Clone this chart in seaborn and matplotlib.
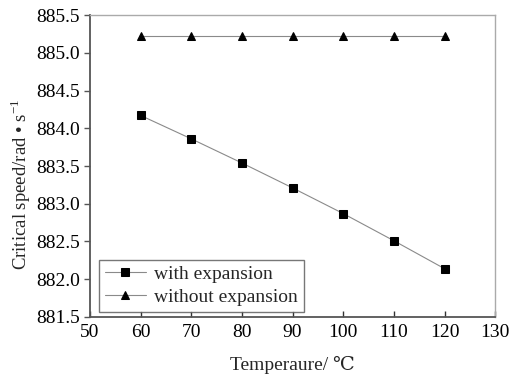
import matplotlib
matplotlib.use("Agg")
import matplotlib.pyplot as plt
import seaborn as sns
import pandas as pd

temperature = [60, 70, 80, 90, 100, 110, 120]
with_expansion = [884.17, 883.86, 883.54, 883.21, 882.87, 882.51, 882.14]
without_expansion = [885.22, 885.22, 885.22, 885.22, 885.22, 885.22, 885.22]
series_names = ["with expansion", "without expansion"]
x_ticks = [50, 60, 70, 80, 90, 100, 110, 120, 130]
y_ticks = [881.5, 882.0, 882.5, 883.0, 883.5, 884.0, 884.5, 885.0, 885.5]

sns.set_theme(style="white")
plt.rcParams['font.family'] = ['Liberation Serif', 'DejaVu Serif']
plt.rcParams['mathtext.fontset'] = 'stix'

fig = plt.figure(figsize=(5.11, 3.76), dpi=100)
ax = fig.add_axes([0.176, 0.157, 0.793, 0.803])

df = pd.DataFrame({
    "T": temperature * 2,
    "v": with_expansion + without_expansion,
    "s": [series_names[0]] * len(temperature) + [series_names[1]] * len(temperature),
})

sns.lineplot(data=df, x="T", y="v", style="s", hue="s",
             palette=["#8a8a8a", "#8a8a8a"], markers=["s", "^"], dashes=False,
             markersize=5.5, markerfacecolor="black", markeredgecolor="black",
             linewidth=0.8, ax=ax, legend=True)

ax.set_xlim(50, 130)
ax.set_ylim(881.5, 885.5)
ax.set_xticks(x_ticks)
ax.set_yticks(y_ticks)
ax.set_xticklabels([str(t) for t in x_ticks])
ax.set_yticklabels([f"{t:.1f}" for t in y_ticks])
ax.tick_params(axis="x", direction="in", length=4, width=1, color="#333333",
               labelsize=14, pad=5, labelcolor="black", bottom=True)
ax.tick_params(axis="y", direction="out", length=4, width=1, color="#555555",
               labelsize=14, pad=3, labelcolor="black", left=True)

for side in ["left", "bottom"]:
    ax.spines[side].set_color("#555555")
    ax.spines[side].set_linewidth(1.3)
for side in ["top", "right"]:
    ax.spines[side].set_color("#aaaaaa")
    ax.spines[side].set_linewidth(1.0)

ax.set_xlabel("Temperaure/ ℃", fontsize=14, labelpad=11)
ax.set_ylabel(r"Critical speed/rad • s$^{\mathregular{-1}}$", fontsize=13.5, labelpad=3)
ax.yaxis.set_label_coords(-0.14, 0.44)

handles, labels = ax.get_legend_handles_labels()
leg = ax.legend(handles, labels, loc="lower left", bbox_to_anchor=(0.022, 0.018),
                fontsize=14, frameon=True, fancybox=False, edgecolor="#555555",
                borderpad=0.3, labelspacing=0.25, handlelength=2.1, handletextpad=0.45,
                borderaxespad=0.0)
leg.get_frame().set_linewidth(1.0)
for h in leg.legend_handles:
    h.set_markerfacecolor("black")
    h.set_markeredgecolor("black")

fig.savefig("out.png", dpi=100)
